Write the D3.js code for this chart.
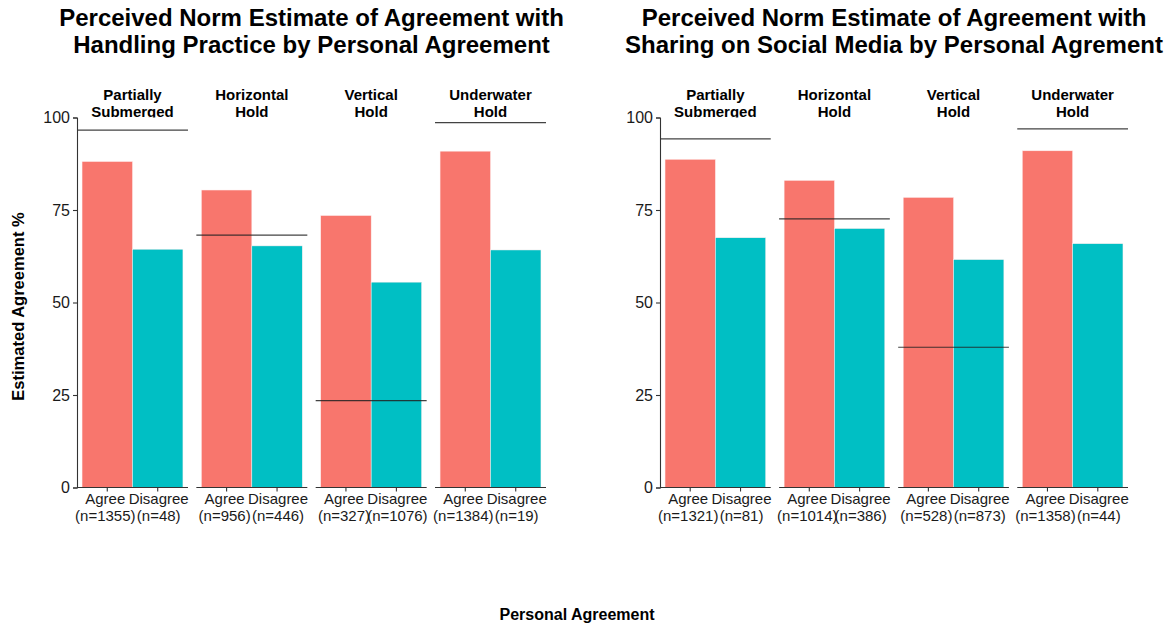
<!DOCTYPE html>
<html>
<head>
<meta charset="utf-8">
<script src="https://cdn.jsdelivr.net/npm/d3@7"></script>
<style>
  body { margin: 0; background: #fff; }
  svg { font-family: "Liberation Sans", Arial, Helvetica, sans-serif; }
</style>
</head>
<body>
<svg width="1169" height="626"></svg>
<script>
// facets (strip labels) and x categories
var facets = ["Partially\nSubmerged", "Horizontal\nHold", "Vertical\nHold", "Underwater\nHold"];
var groups = ["Agree", "Disagree"];

// left chart: handling practice
var handlingAgree    = [88.1, 80.4, 73.5, 90.9];
var handlingDisagree = [64.4, 65.3, 55.5, 64.2];
var handlingNorm     = [96.6, 68.2, 23.5, 98.6];
var handlingN        = [[1355, 48], [956, 446], [327, 1076], [1384, 19]];

// right chart: sharing on social media
var sharingAgree    = [88.7, 83.0, 78.4, 91.0];
var sharingDisagree = [67.5, 70.0, 61.6, 65.9];
var sharingNorm     = [94.2, 72.6, 37.9, 96.9];
var sharingN        = [[1321, 81], [1014, 386], [528, 873], [1358, 44]];

var yTicks = [0, 25, 50, 75, 100];
var colors = {"Agree": "#F8766D", "Disagree": "#00BFC4"};

var svg = d3.select("svg");

var y = d3.scaleLinear().domain([0, 100]).range([487.5, 117.5]);

// 1 panel = 4 facets
function drawPanel(opt){
    var g = svg.append("g");
    var fx = d3.scaleBand().domain(facets).range([opt.x0, opt.x1]).paddingInner(0.07);
    var x = d3.scaleBand().domain(groups).range([0, fx.bandwidth()]).paddingInner(0).paddingOuter(0.1);

    // title
    var cx = (opt.x0 + opt.x1) / 2;
    g.append("text")
        .attr("x", cx).attr("y", 26)
        .attr("text-anchor", "middle")
        .style("font-size", "24px").style("font-weight", "bold")
        .text(opt.title[0]);
    g.append("text")
        .attr("x", cx).attr("y", 53)
        .attr("text-anchor", "middle")
        .style("font-size", "24px").style("font-weight", "bold")
        .text(opt.title[1]);

    // clip for strip labels (cut off at panel top)
    var clipId = "clip" + opt.id;
    svg.append("clipPath").attr("id", clipId)
        .append("rect").attr("x", 0).attr("y", 60).attr("width", 1169).attr("height", y(100) - 60);

    facets.forEach(function(f, i){
        var fg = g.append("g").attr("transform", "translate(" + fx(f) + ",0)");
        var rows = groups.map(function(k, j){
            return {key: k, value: (j == 0 ? opt.agree[i] : opt.disagree[i]), n: opt.n[i][j]};
        });

        // bars
        fg.selectAll("rect.bar")
            .data(rows)
            .enter()
            .append("rect")
            .attr("class", "bar")
            .attr("x", function(d){ return x(d.key); })
            .attr("width", x.bandwidth())
            .attr("y", function(d){ return y(d.value); })
            .attr("height", function(d){ return y(0) - y(d.value); })
            .attr("fill", function(d){ return colors[d.key]; })
            .attr("stroke", "#fdeeee")
            .attr("stroke-width", 0.5)
        ;

        // norm line
        fg.append("line")
            .attr("x1", 0).attr("x2", fx.bandwidth())
            .attr("y1", y(opt.norm[i])).attr("y2", y(opt.norm[i]))
            .attr("stroke", "#222").attr("stroke-opacity", 0.85).attr("stroke-width", 1.2);

        // x axis
        fg.append("line")
            .attr("x1", 0).attr("x2", fx.bandwidth())
            .attr("y1", y(0)).attr("y2", y(0))
            .attr("stroke", "#333").attr("stroke-width", 1.1);
        fg.selectAll("line.xtick")
            .data(rows).enter().append("line")
            .attr("class", "xtick")
            .attr("x1", function(d){ return x(d.key) + x.bandwidth() / 2; })
            .attr("x2", function(d){ return x(d.key) + x.bandwidth() / 2; })
            .attr("y1", y(0)).attr("y2", y(0) + 4)
            .attr("stroke", "#333").attr("stroke-width", 1.1);
        var lab = fg.selectAll("text.xlab")
            .data(rows).enter().append("text")
            .attr("class", "xlab")
            .attr("text-anchor", "middle")
            .style("font-size", "15px").attr("fill", "#1a1a1a");
        lab.append("tspan")
            .attr("x", function(d){ return x(d.key) + x.bandwidth() / 2 + (d.key == "Agree" ? -2 : 1); })
            .attr("y", 504)
            .text(function(d){ return d.key; });
        lab.append("tspan")
            .attr("x", function(d){ return x(d.key) + x.bandwidth() / 2 + (d.key == "Agree" ? -2 : 1); })
            .attr("y", 521)
            .text(function(d){ return "(n=" + d.n + ")"; });

        // strip label
        var parts = f.split("\n");
        fg.append("g").attr("clip-path", "url(#" + clipId + ")")
            .selectAll("text")
            .data(parts).enter().append("text")
            .attr("x", fx.bandwidth() / 2)
            .attr("y", function(d, k){ return 100 + k * 16.5; })
            .attr("text-anchor", "middle")
            .style("font-size", "15px").style("font-weight", "bold")
            .text(function(d){ return d; });
    });

    // y axis
    var ax = g.append("g")
        .attr("transform", "translate(" + opt.x0 + ",0)")
        .call(d3.axisLeft(y).tickValues(yTicks).tickSize(4).tickPadding(3));
    ax.select(".domain").attr("stroke", "#333").attr("stroke-width", 1.1);
    ax.selectAll(".tick line").attr("stroke", "#333").attr("stroke-width", 1.1);
    ax.selectAll(".tick text")
        .style("font-size", "16px").style("font-family", "Liberation Sans, Arial, sans-serif")
        .attr("fill", "#1a1a1a");
}

drawPanel({
    id: "L", x0: 77, x1: 546,
    title: ["Perceived Norm Estimate of Agreement with", "Handling Practice by Personal Agreement"],
    agree: handlingAgree, disagree: handlingDisagree, norm: handlingNorm, n: handlingN
});
drawPanel({
    id: "R", x0: 660, x1: 1128,
    title: ["Perceived Norm Estimate of Agreement with", "Sharing on Social Media by Personal Agrement"],
    agree: sharingAgree, disagree: sharingDisagree, norm: sharingNorm, n: sharingN
});

// axis titles
svg.append("text")
    .attr("transform", "translate(24," + ((y(0) + y(100)) / 2 + 4) + ") rotate(-90)")
    .attr("text-anchor", "middle")
    .style("font-size", "16.5px").style("font-weight", "bold")
    .text("Estimated Agreement %");
svg.append("text")
    .attr("x", 577).attr("y", 620)
    .attr("text-anchor", "middle")
    .style("font-size", "16px").style("font-weight", "bold")
    .text("Personal Agreement");
</script>
</body>
</html>
